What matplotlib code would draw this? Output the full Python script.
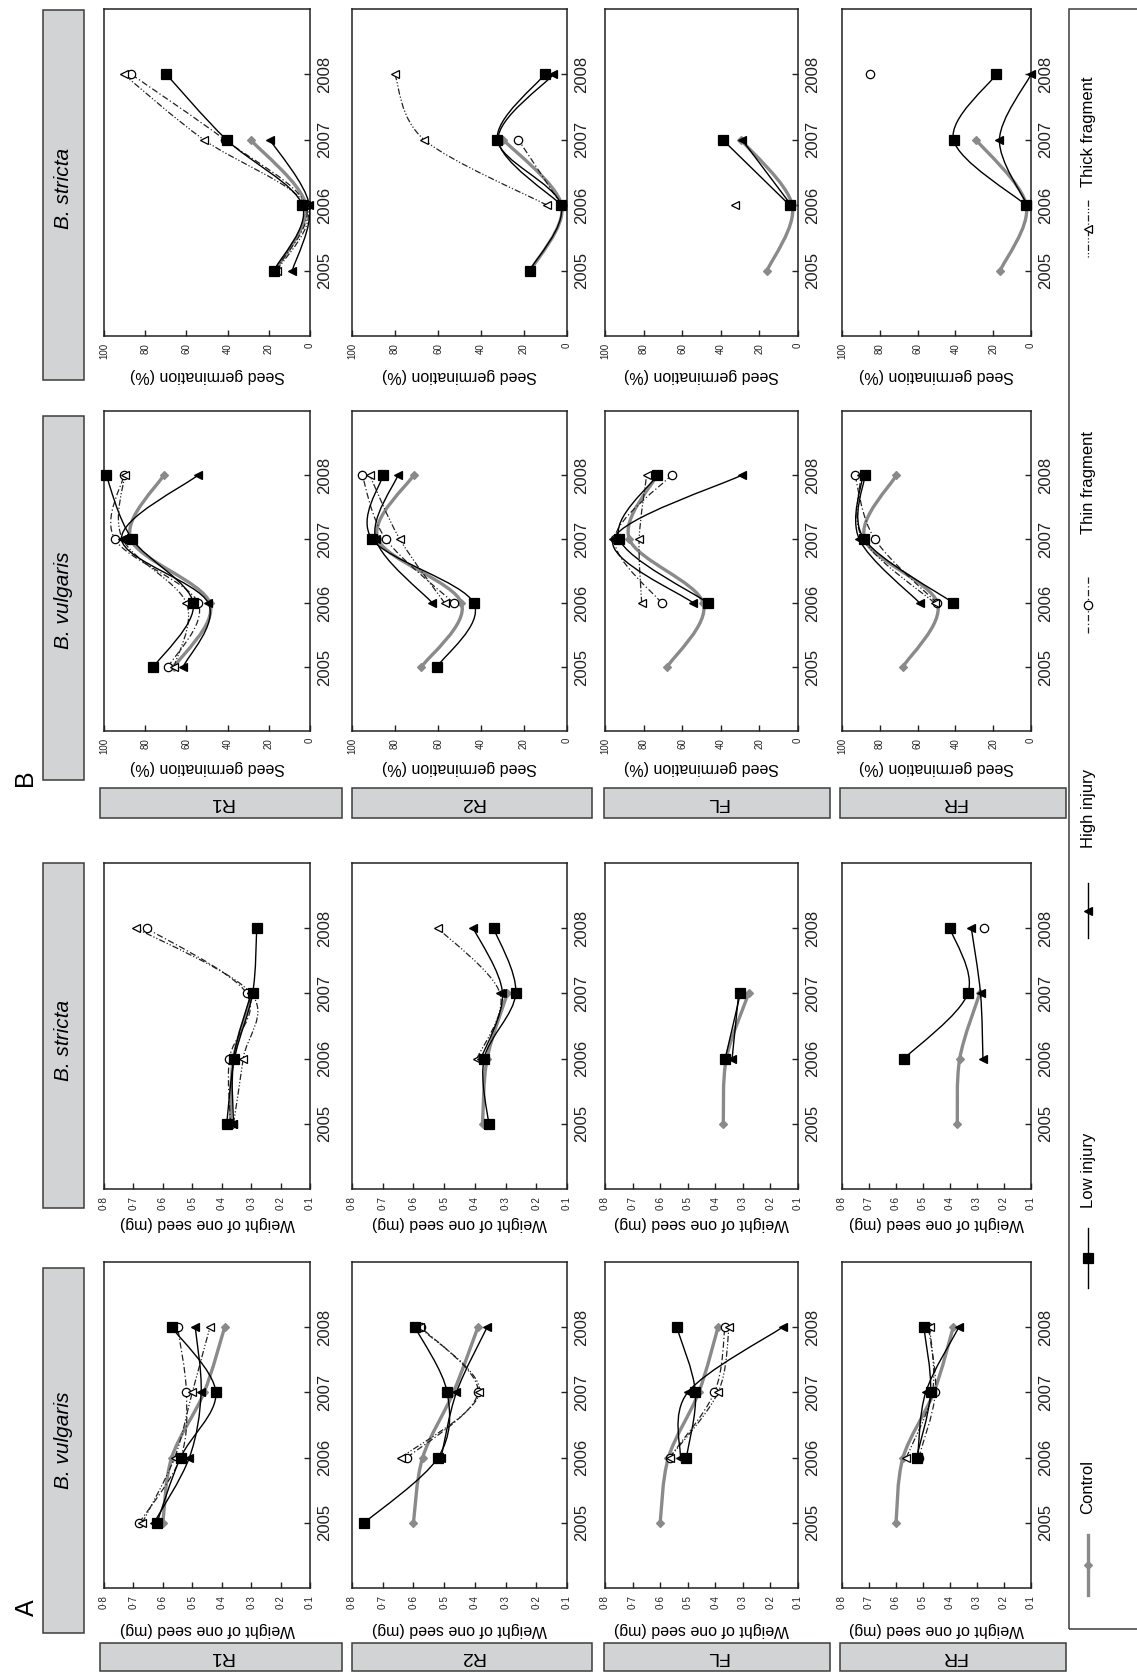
import numpy as np
import matplotlib
matplotlib.use("Agg")
import matplotlib.pyplot as plt
from matplotlib.path import Path
from matplotlib.patches import PathPatch, Rectangle
from matplotlib.lines import Line2D

plt.rcParams["font.family"] = ["Liberation Sans", "DejaVu Sans"]

# ---- data ---------------------------------------------------------------
years = [2005, 2006, 2007, 2008]
treatments = ["Control", "Low injury", "High injury", "Thin fragment", "Thick fragment"]
rows = ["R1", "R2", "FL", "FR"]

# seed weight (mg), order of treatments as above
wt_vul_R1 = [[0.60, 0.57, 0.46, 0.39], [0.62, 0.54, 0.42, 0.57], [0.63, 0.51, 0.47, 0.49],
             [0.68, 0.54, 0.52, 0.55], [0.67, 0.56, 0.50, 0.44]]
wt_vul_R2 = [[0.60, 0.57, 0.47, 0.39], [0.76, 0.52, 0.49, 0.595], [None, 0.51, 0.46, 0.36],
             [None, 0.62, 0.39, 0.575], [None, 0.64, 0.385, 0.58]]
wt_vul_FL = [[0.60, 0.57, 0.46, 0.39], [None, 0.505, 0.472, 0.54], [None, 0.527, 0.50, 0.156],
             [None, 0.566, 0.403, 0.365], [None, 0.565, 0.39, 0.35]]
wt_vul_FR = [[0.60, 0.574, 0.46, 0.388], [None, 0.524, 0.472, 0.497], [None, 0.52, 0.49, 0.367],
             [None, 0.516, 0.454, 0.48], [None, 0.562, 0.465, 0.475]]

wt_str_R1 = [[0.37, 0.36, 0.295, None], [0.383, 0.357, 0.295, 0.281], [0.36, 0.36, 0.30, None],
             [0.37, 0.374, 0.315, 0.655], [0.36, 0.327, 0.30, 0.69]]
wt_str_R2 = [[0.375, 0.36, 0.294, None], [0.355, 0.37, 0.267, 0.339], [None, 0.38, 0.31, 0.405],
             [None, None, None, None], [None, 0.393, 0.318, 0.52]]
wt_str_FL = [[0.371, 0.36, 0.279, None], [None, 0.364, 0.309, None], [None, 0.339, 0.315, None],
             [None, None, None, None], [None, None, None, None]]
wt_str_FR = [[0.373, 0.364, 0.29, None], [None, 0.57, 0.334, 0.40], [None, 0.278, 0.287, 0.321],
             [None, None, None, 0.275], [None, None, None, None]]

# seed germination (%)
gm_vul_R1 = [[66, 48.6, 87, 71], [76, 56.7, 86.4, 99], [61.6, 49.4, 91.5, 54.3],
             [68.9, 54.3, 94.8, 90.3], [66, 60, 91, 90]]
gm_vul_R2 = [[67.7, 49.1, 88, 71.3], [60.5, 43.4, 90.7, 85.6], [None, 62.6, 89, 78.6],
             [None, 52.7, 84.3, 95.3], [None, 56.9, 77.8, 91.8]]
gm_vul_FL = [[67.8, 49.1, 87.4, 73], [None, 46.6, 92.6, 72.8], [None, 54.3, 95.7, 29],
             [None, 70.7, 95, 65.5], [None, 81, 82.3, 78.4]]
gm_vul_FR = [[67.8, 49.5, 88, 71.2], [None, 41.1, 88.3, 87.9], [None, 58.9, 90.9, 89],
             [None, 49.8, 82.7, 93.2], [None, 51, 89, 90]]

gm_str_R1 = [[17, 2, 28.8, None], [17.5, 3.7, 40.5, 69.7], [8.6, 0.3, 19.4, None],
             [17, 2, 41.3, 86.7], [16, 2, 51.5, 90.4]]
gm_str_R2 = [[17, 2.5, 29.6, None], [17.4, 2.8, 32.4, 10.4], [None, 2.5, 32, 6.3],
             [None, 2.5, 22.6, None], [None, 9.3, 66.4, 80.1]]
gm_str_FL = [[16, 3, 29.5, None], [None, 4.3, 39, None], [None, 3.5, 29, None],
             [None, None, None, None], [None, 32.4, None, None]]
gm_str_FR = [[16.3, 2.5, 29, None], [None, 2.6, 41, 18.4], [None, 2, 16.7, 0],
             [None, None, None, 85], [None, None, None, None]]

wt_ticks = [0.8, 0.7, 0.6, 0.5, 0.4, 0.3, 0.2, 0.1]
gm_ticks = [100, 80, 60, 40, 20, 0]

# ---- styles -------------------------------------------------------------
GREY = "#8a8a8a"
DASHDOT = (0, (5, 2, 1, 2))
DASHDOTDOT = (0, (5, 1.6, 1, 1.6, 1, 1.6))
STYLES = {
    "Control": dict(color=GREY, lw=2.4, ls="-", marker="D", ms=4.5, mfc=GREY, mec=GREY, z=2),
    "Low injury": dict(color="black", lw=1.0, ls="-", marker="s", ms=7.5, mfc="black", mec="black", z=5),
    "High injury": dict(color="black", lw=1.0, ls="-", marker="<", ms=6, mfc="black", mec="black", z=4),
    "Thin fragment": dict(color="#222222", lw=0.9, ls=DASHDOT, marker="o", ms=6, mfc="white", mec="black", z=3),
    "Thick fragment": dict(color="#222222", lw=0.9, ls=DASHDOTDOT, marker="<", ms=6, mfc="white", mec="black", z=3),
}

W, H = 1137, 1672
fig = plt.figure(figsize=(W / 100, H / 100), dpi=100)


def fx(x):
    return x / W


def fy(y):
    return 1 - y / H


def smooth_line(ax, xs, ys, st):
    pts = np.column_stack([xs, ys])
    n = len(pts)
    verts = [pts[0]]
    codes = [Path.MOVETO]
    for i in range(n - 1):
        p0 = pts[max(i - 1, 0)]
        p1 = pts[i]
        p2 = pts[i + 1]
        p3 = pts[min(i + 2, n - 1)]
        verts += [p1 + (p2 - p0) / 6, p2 - (p3 - p1) / 6, p2]
        codes += [Path.CURVE4] * 3
    patch = PathPatch(Path(verts, codes), fill=False, edgecolor=st["color"], lw=st["lw"],
                      linestyle=st["ls"], zorder=st["z"])
    ax.add_patch(patch)


def draw_series(ax, vals, st):
    v = np.array([np.nan if a is None else a for a in vals], float)
    y = np.array(years, float)
    ok = ~np.isnan(v)
    start = None
    for i in range(len(v) + 1):
        if i < len(v) and ok[i]:
            if start is None:
                start = i
        else:
            if start is not None and i - start >= 2:
                smooth_line(ax, v[start:i], y[start:i], st)
            start = None
    ax.plot(v[ok], y[ok], ls="none", marker=st["marker"], ms=st["ms"], mfc=st["mfc"],
            mec=st["mec"], mew=0.9, zorder=st["z"] + 0.5, clip_on=False)


# ---- layout (pixel positions in the rotated page) -----------------------
row_x = [(104, 310), (352, 567), (605, 798), (842, 1031)]
row_box_x = [(100, 342), (352, 592), (604, 830), (840, 1066)]

columns = [
    # species, frame y0, y1, header y0, y1, header text y, axis-label y, data, kind
    ("B. vulgaris", 1262, 1588, 1268, 1633, 1440, 1630, [wt_vul_R1, wt_vul_R2, wt_vul_FL, wt_vul_FR], "wt"),
    ("B. stricta", 863, 1189, 863, 1208, 1040, 1224, [wt_str_R1, wt_str_R2, wt_str_FL, wt_str_FR], "wt"),
    ("B. vulgaris", 411, 731, 416, 780, 600, 768, [gm_vul_R1, gm_vul_R2, gm_vul_FL, gm_vul_FR], "gm"),
    ("B. stricta", 9, 336, 10, 380, 188, 376, [gm_str_R1, gm_str_R2, gm_str_FL, gm_str_FR], "gm"),
]

for species, y0, y1, hy0, hy1, ty, ly, data, kind in columns:
    # header box
    fig.add_artist(Rectangle((fx(43), fy(hy1)), (84 - 43) / W, (hy1 - hy0) / H,
                             transform=fig.transFigure, fc="#d1d3d4", ec="#3c3c3c", lw=1.1))
    fig.text(fx(63.5), fy(ty), species, rotation=90, style="italic",
             fontsize=15, ha="center", va="center")
    for r, (x0, x1) in enumerate(row_x):
        ax = fig.add_axes([fx(x0), fy(y1), (x1 - x0) / W, (y1 - y0) / H])
        for name, vals in zip(treatments, data[r]):
            draw_series(ax, vals, STYLES[name])
        ax.set_ylim(2004, 2009)
        if kind == "wt":
            ax.set_xlim(0.8, 0.1)
            ax.set_xticks(wt_ticks)
            ax.set_xticklabels([f"{t:.1f}".replace(".", "\u00b7") for t in wt_ticks])
            label = "Weight of one seed (mg)"
        else:
            ax.set_xlim(100, 0)
            ax.set_xticks(gm_ticks)
            ax.set_xticklabels([str(t) for t in gm_ticks])
            label = "Seed germination (%)"
        ax.yaxis.tick_right()
        ax.set_yticks(years)
        ax.set_yticklabels([str(yr) for yr in years])
        ax.tick_params(axis="x", direction="in", length=4, width=1, labelsize=7, pad=5,
                       labelrotation=90, colors="#222222")
        ax.tick_params(axis="y", direction="in", length=4, width=1, labelsize=12, pad=5,
                       labelrotation=90, colors="#222222")
        for lab in ax.get_yticklabels():
            lab.set_va("center")
        for sp in ax.spines.values():
            sp.set_color("#222222")
            sp.set_linewidth(1.1)
        fig.text(fx((x0 + x1) / 2), fy(ly), label, rotation=180, ha="center", va="center",
                 fontsize=11.5)

# row label boxes for panels A and B
for by0, by1 in [(1643, 1671), (788, 818)]:
    for name, (bx0, bx1) in zip(rows, row_box_x):
        fig.add_artist(Rectangle((fx(bx0), fy(by1)), (bx1 - bx0) / W, (by1 - by0) / H,
                                 transform=fig.transFigure, fc="#d1d3d4", ec="#3c3c3c", lw=1.1))
        fig.text(fx((bx0 + bx1) / 2), fy((by0 + by1) / 2), name, rotation=180,
                 ha="center", va="center", fontsize=14)

# panel letters
fig.text(fx(27), fy(1608), "A", rotation=90, ha="center", va="center", fontsize=18)
fig.text(fx(25), fy(778), "B", rotation=90, ha="center", va="center", fontsize=18)

# legend
fig.add_artist(Rectangle((fx(1069), fy(1629)), (1145 - 1069) / W, (1629 - 9) / H,
                         transform=fig.transFigure, fc="none", ec="#3c3c3c", lw=1.1))
legend_pos = [(1487, 1535, 1595), (1170, 1228, 1288), (808, 883, 938), (483, 577, 633), (132, 200, 257)]
lx = 1088
for name, (ty, sy0, sy1) in zip(treatments, legend_pos):
    st = STYLES[name]
    fig.add_artist(Line2D([fx(lx), fx(lx)], [fy(sy0), fy(sy1)], transform=fig.transFigure,
                          color=st["color"], lw=st["lw"], ls=st["ls"]))
    fig.add_artist(Line2D([fx(lx)], [fy((sy0 + sy1) / 2)], transform=fig.transFigure, ls="none",
                          marker=st["marker"], ms=st["ms"], mfc=st["mfc"], mec=st["mec"], mew=0.9))
    fig.text(fx(lx), fy(ty), name, rotation=90, ha="center", va="center", fontsize=12)

fig.savefig("out.png", dpi=100)
